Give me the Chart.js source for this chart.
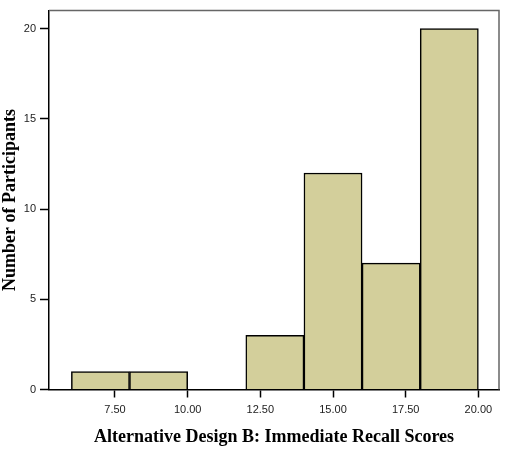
<!DOCTYPE html>
<html><head><meta charset="utf-8">
<script src="https://cdn.jsdelivr.net/npm/chart.js@4"></script>
<style>html,body{margin:0;padding:0;background:#fff}#wrap{width:510px;height:450px}</style>
</head><body><div id="wrap"><canvas id="c" width="510" height="450"></canvas></div>
<script>
const binCenters = [7, 9, 11, 13, 15, 17, 19];
const counts = [1, 1, 0, 3, 12, 7, 20];
const xTicks = [7.5, 10, 12.5, 15, 17.5, 20];
const yTicks = [0, 5, 10, 15, 20];
const xTitle = 'Alternative Design B: Immediate Recall Scores';
const yTitle = 'Number of Participants';

const framePlugin = {
  id: 'frame',
  afterDraw(chart) {
    const a = chart.chartArea, ctx = chart.ctx;
    ctx.save();
    ctx.strokeStyle = '#666';
    ctx.lineWidth = 1.5;
    ctx.beginPath();
    ctx.moveTo(a.left, a.top); ctx.lineTo(a.right, a.top); ctx.lineTo(a.right, a.bottom);
    ctx.stroke();
    ctx.restore();
  }
};

new Chart(document.getElementById('c'), {
  type: 'bar',
  data: {
    datasets: [{
      data: binCenters.map((x, i) => ({x: x, y: counts[i]})),
      backgroundColor: 'rgb(211,207,155)',
      borderColor: '#000',
      borderWidth: 1.5,
      categoryPercentage: 1,
      barPercentage: 1
    }]
  },
  plugins: [framePlugin],
  options: {
    responsive: false,
    animation: false,
    events: [],
    layout: {padding: {left: 0, right: 11, top: 7, bottom: 0}},
    plugins: {legend: {display: false}, tooltip: {enabled: false}},
    scales: {
      x: {
        type: 'linear',
        offset: false,
        min: 5.23, max: 20.71,
        afterBuildTicks: s => { s.ticks = xTicks.map(v => ({value: v})); },
        afterFit: s => { s.height = 60.5; },
        grid: {display: true, offset: false, drawOnChartArea: false, drawTicks: true, tickLength: 8, tickColor: '#000', tickWidth: 1.5},
        border: {display: true, color: '#000', width: 1.5},
        ticks: {color: '#222', font: {family: 'Liberation Sans', size: 11}, padding: 6,
          callback: v => v.toFixed(2), maxRotation: 0, autoSkip: false},
        title: {display: true, text: xTitle, color: '#000',
          font: {family: 'Liberation Serif', size: 18, weight: 'bold'}, padding: {top: 4, bottom: 2}}
      },
      y: {
        type: 'linear',
        min: 0, max: 21,
        afterBuildTicks: s => { s.ticks = yTicks.map(v => ({value: v})); },
        afterFit: s => { s.width = 49; },
        grid: {display: true, drawOnChartArea: false, drawTicks: true, tickLength: 9, tickColor: '#000', tickWidth: 1.5},
        border: {display: true, color: '#000', width: 1.5},
        ticks: {color: '#222', font: {family: 'Liberation Sans', size: 11}, padding: 4},
        title: {display: true, text: yTitle, color: '#000',
          font: {family: 'Liberation Serif', size: 18, weight: 'bold'}, padding: {top: 0, bottom: 0}}
      }
    }
  }
});
</script></body></html>
